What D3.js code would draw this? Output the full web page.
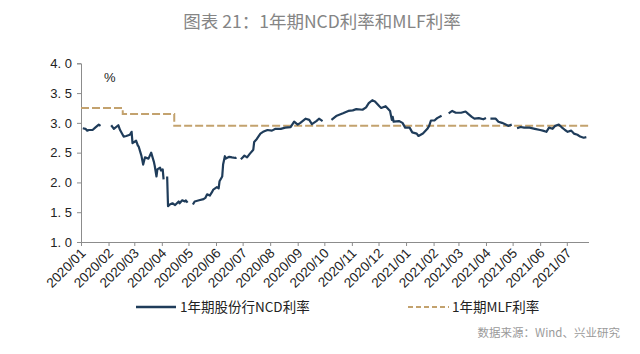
<!DOCTYPE html>
<html>
<head>
<meta charset="utf-8">
<script src="https://cdn.jsdelivr.net/npm/d3@7"></script>
<style>
  body { margin: 0; background: #fff; }
  text { font-family: "Liberation Sans", Arial, sans-serif; }
  .cjk { font-family: "Noto Sans CJK SC", "Noto Sans", sans-serif; }
</style>
</head>
<body>
<svg id="chart" width="640" height="354"></svg>
<script>
// 1年期股份行NCD利率 (null = holiday gap)
const ncdDates = [
  "2020-01-03","2020-01-06","2020-01-08","2020-01-10","2020-01-14","2020-01-17","2020-01-21","2020-01-23","2020-01-24",
  "2020-02-04","2020-02-06","2020-02-07","2020-02-12","2020-02-14","2020-02-18","2020-02-21","2020-02-25","2020-02-27","2020-02-28",
  "2020-03-03","2020-03-05","2020-03-06","2020-03-09","2020-03-11","2020-03-13","2020-03-17","2020-03-20","2020-03-23","2020-03-24",
  "2020-03-26","2020-03-27","2020-03-30","2020-03-31","2020-04-02","2020-04-03","2020-04-05",
  "2020-04-07","2020-04-08","2020-04-10","2020-04-13","2020-04-16","2020-04-20","2020-04-21","2020-04-24","2020-04-27","2020-04-28","2020-04-30","2020-05-02",
  "2020-05-06","2020-05-08","2020-05-13","2020-05-18","2020-05-20","2020-05-22","2020-05-25","2020-05-28","2020-05-29",
  "2020-06-02","2020-06-04","2020-06-05","2020-06-08","2020-06-09","2020-06-11","2020-06-12","2020-06-16","2020-06-19","2020-06-23","2020-06-24","2020-06-26",
  "2020-06-29","2020-07-01","2020-07-03","2020-07-06","2020-07-09","2020-07-13","2020-07-14","2020-07-17","2020-07-21","2020-07-24","2020-07-29",
  "2020-08-03","2020-08-07","2020-08-13","2020-08-18","2020-08-24","2020-08-28",
  "2020-09-01","2020-09-04","2020-09-10","2020-09-14","2020-09-17","2020-09-22","2020-09-25","2020-09-29","2020-10-02",
  "2020-10-09","2020-10-15","2020-10-22","2020-10-28","2020-11-02","2020-11-06","2020-11-13","2020-11-17","2020-11-20","2020-11-24","2020-11-27",
  "2020-12-02","2020-12-04","2020-12-09","2020-12-14","2020-12-16","2020-12-17","2020-12-18","2020-12-24","2020-12-28","2020-12-31",
  "2021-01-05","2021-01-08","2021-01-13","2021-01-15","2021-01-20","2021-01-25","2021-01-27","2021-01-29",
  "2021-02-02","2021-02-05","2021-02-10","2021-02-12",
  "2021-02-18","2021-02-22","2021-02-26","2021-03-04","2021-03-09","2021-03-12","2021-03-16","2021-03-19","2021-03-24","2021-03-29","2021-04-01","2021-04-03",
  "2021-04-06","2021-04-12","2021-04-15","2021-04-19","2021-04-22","2021-04-26","2021-04-30","2021-05-02",
  "2021-05-06","2021-05-10","2021-05-14","2021-05-20","2021-05-26","2021-06-01","2021-06-04","2021-06-08","2021-06-11","2021-06-15","2021-06-18",
  "2021-06-22","2021-06-25","2021-06-29","2021-07-02","2021-07-06","2021-07-09","2021-07-13","2021-07-16","2021-07-20","2021-07-23"
];
const ncdValues = [
  2.91,2.90,2.87,2.88,2.88,2.92,2.97,2.95,null,
  2.96,2.92,2.90,2.96,2.88,2.77,2.78,2.80,2.85,2.66,
  2.70,2.62,2.60,2.45,2.30,2.42,2.40,2.50,2.35,2.28,
  2.10,2.22,2.25,2.20,2.22,2.05,null,
  2.10,1.60,1.63,1.65,1.62,1.68,1.65,1.70,1.68,1.70,1.66,null,
  1.63,1.68,1.70,1.72,1.74,1.80,1.78,1.85,1.88,
  1.92,1.90,2.02,2.10,2.30,2.44,2.40,2.43,2.42,2.41,2.42,null,
  2.39,2.42,2.45,2.42,2.48,2.55,2.68,2.73,2.82,2.85,2.88,
  2.87,2.90,2.90,2.92,2.93,3.02,
  2.97,3.00,3.07,3.05,2.98,3.03,3.07,3.03,null,
  3.05,3.12,3.16,3.20,3.21,3.23,3.22,3.26,3.33,3.38,3.36,
  3.28,3.25,3.28,3.20,3.05,3.10,3.02,3.03,3.00,2.92,
  2.92,2.84,2.82,2.78,2.82,2.90,2.95,3.04,
  3.04,3.08,3.12,null,
  3.16,3.20,3.17,3.17,3.19,3.15,3.10,3.07,3.08,3.06,3.08,null,
  3.07,3.07,3.02,3.00,2.98,2.95,2.97,null,
  2.91,2.93,2.92,2.92,2.90,2.88,2.87,2.85,2.92,2.90,2.95,
  2.97,2.93,2.88,2.85,2.87,2.82,2.80,2.77,2.75,2.76
];

// 1年期MLF利率 (step changes)
const mlfDates = ["2020-01-01", "2020-02-17", "2020-04-15", "2021-07-26"];
const mlfValues = [3.25, 3.15, 2.95, 2.95];

const monthTicks = ["2020/01","2020/02","2020/03","2020/04","2020/05","2020/06","2020/07","2020/08","2020/09","2020/10",
                    "2020/11","2020/12","2021/01","2021/02","2021/03","2021/04","2021/05","2021/06","2021/07"];
const yTicks = [1.0, 1.5, 2.0, 2.5, 3.0, 3.5, 4.0];

const parse = d3.timeParse("%Y-%m-%d");
const ncd = ncdDates.map((d, i) => ({date: parse(d), value: ncdValues[i]}));
const mlf = mlfDates.map((d, i) => ({date: parse(d), value: mlfValues[i]}));

const svg = d3.select("#chart");
const plot = {left: 81, right: 589, top: 63.3, bottom: 242};

const x = d3.scaleTime().domain([parse("2020-01-01"), parse("2021-07-26")]).range([plot.left, plot.right]);
const y = d3.scaleLinear().domain([1, 4]).range([plot.bottom, plot.top]);

// title
svg.append("text")
  .attr("class", "cjk")
  .attr("x", 322).attr("y", 28)
  .attr("text-anchor", "middle")
  .attr("fill", "#858585")
  .style("font-size", "17.5px")
  .text("图表 21：1年期NCD利率和MLF利率");

// axes
const axisColor = "#8c8c8c";
const yAxis = svg.append("g")
  .attr("transform", `translate(${plot.left},0)`)
  .call(d3.axisLeft(y).tickValues(yTicks).tickSize(4).tickPadding(5)
    .tickFormat(d => d3.format(".1f")(d).replace(".", ". ")));
yAxis.select(".domain").attr("stroke", axisColor);
yAxis.selectAll(".tick line").attr("stroke", axisColor);
yAxis.selectAll(".tick text").attr("fill", "#222").style("font-size", "13px")
  .style("font-family", "'Liberation Sans', Arial, sans-serif");

const monthParse = d3.timeParse("%Y/%m");
const xAxis = svg.append("g")
  .attr("transform", `translate(0,${plot.bottom})`)
  .call(d3.axisBottom(x).tickValues(monthTicks.map(monthParse)).tickSize(4).tickSizeOuter(0)
    .tickFormat(d3.timeFormat("%Y/%m")));
xAxis.select(".domain").attr("stroke", axisColor).attr("d", `M${plot.left},0.5H${plot.right}`);
xAxis.selectAll(".tick line").attr("stroke", axisColor);
xAxis.selectAll(".tick text")
  .attr("fill", "#222")
  .style("font-size", "13.5px")
  .style("font-family", "'Liberation Sans', Arial, sans-serif")
  .attr("text-anchor", "end")
  .attr("dy", null)
  .attr("y", 0)
  .attr("transform", "translate(5,12) rotate(-45)");

// % label
svg.append("text")
  .attr("x", 104).attr("y", 82)
  .attr("fill", "#222")
  .style("font-size", "13px")
  .text("%");

// MLF line
const mlfColor = "#c3a26e";
svg.append("path")
  .datum(mlf)
  .attr("fill", "none")
  .attr("stroke", mlfColor)
  .attr("stroke-width", 2)
  .attr("stroke-dasharray", "8,3")
  .attr("d", d3.line().curve(d3.curveStepAfter).x(d => x(d.date)).y(d => y(d.value)));

// NCD line
const ncdColor = "#1f3c5a";
svg.append("path")
  .datum(ncd)
  .attr("fill", "none")
  .attr("stroke", ncdColor)
  .attr("stroke-width", 2.2)
  .attr("stroke-linejoin", "round")
  .attr("d", d3.line().defined(d => d.value !== null).x(d => x(d.date)).y(d => y(d.value)));

// legend
const legY = 307;
svg.append("line")
  .attr("x1", 136).attr("x2", 176).attr("y1", legY).attr("y2", legY)
  .attr("stroke", ncdColor).attr("stroke-width", 2.5);
svg.append("text")
  .attr("class", "cjk")
  .attr("x", 180).attr("y", legY + 5)
  .attr("fill", "#222")
  .style("font-size", "13.5px")
  .text("1年期股份行NCD利率");

svg.append("line")
  .attr("x1", 408).attr("x2", 449).attr("y1", legY).attr("y2", legY)
  .attr("stroke", mlfColor).attr("stroke-width", 2)
  .attr("stroke-dasharray", "5,3");
svg.append("text")
  .attr("class", "cjk")
  .attr("x", 452).attr("y", legY + 5)
  .attr("fill", "#222")
  .style("font-size", "13.5px")
  .text("1年期MLF利率");

// source
svg.append("text")
  .attr("class", "cjk")
  .attr("x", 620).attr("y", 337)
  .attr("text-anchor", "end")
  .attr("fill", "#9a9a9a")
  .style("font-size", "11.5px")
  .text("数据来源：Wind、兴业研究");
</script>
</body>
</html>
